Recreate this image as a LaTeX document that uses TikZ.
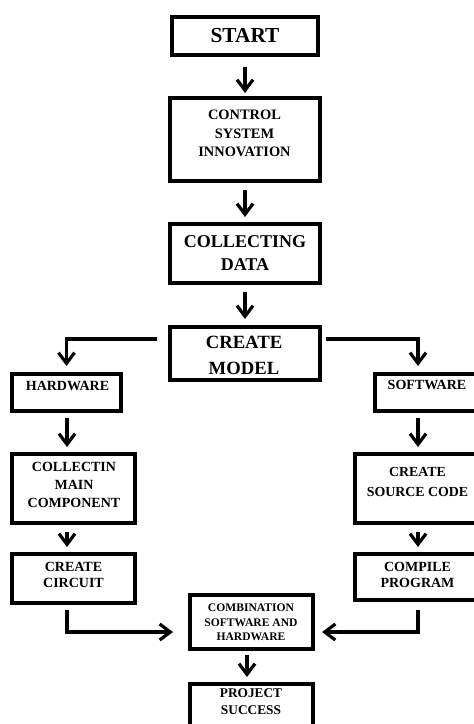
\documentclass[tikz,border=0pt]{standalone}
\usepackage{fontspec}
\setmainfont{Liberation Serif}
\usetikzlibrary{arrows.meta}
\begin{document}
\begin{tikzpicture}[x=0.75pt,y=-0.75pt,
  box/.style={draw, line width=3.6pt, inner sep=0pt, outer sep=0pt},
  lbl/.style={inner sep=0pt, outer sep=0pt, align=center},
  arr/.style={line width=2.4pt, -{Straight Barb[length=8pt,width=12pt]}},
  big/.style={font=\bfseries\fontsize{14pt}{19.5pt}\selectfont},
  mid/.style={font=\bfseries\fontsize{10.5pt}{13.5pt}\selectfont},
  sml/.style={font=\bfseries\fontsize{8.7pt}{10.9pt}\selectfont}]
\useasboundingbox[fill=white] (0,0) rectangle (474,724);
\clip (0,0) rectangle (474,724);
% column coordinates
\coordinate (lx) at (67,0);
\coordinate (rx) at (418,0);
\coordinate (bx) at (247,0);
% boxes
\node[box, minimum width=109.5pt, minimum height=28.5pt] (start) at (245,36) {};
\node[box, minimum width=112.5pt, minimum height=62.25pt] (ctrl) at (245,139.5) {};
\node[box, minimum width=112.5pt, minimum height=44.25pt] (data) at (245,253.5) {};
\node[box, minimum width=112.5pt, minimum height=39.75pt] (model) at (245,353.5) {};
\node[box, minimum width=81.75pt, minimum height=27.75pt] (hw) at (66.5,392.5) {};
\node[box, minimum width=84.75pt, minimum height=27.75pt] (sw) at (431.5,392.5) {};
\node[box, minimum width=92.25pt, minimum height=51.75pt] (comp) at (73.5,488.5) {};
\node[box, minimum width=99.75pt, minimum height=51.75pt] (src) at (421.5,488.5) {};
\node[box, minimum width=92.25pt, minimum height=36.75pt] (circ) at (73.5,578.5) {};
\node[box, minimum width=99.75pt, minimum height=34.5pt] (prog) at (421.5,577) {};
\node[box, minimum width=92.25pt, minimum height=40.5pt] (comb) at (251.5,622) {};
\node[box, minimum width=92.25pt, minimum height=48pt] (proj) at (251.5,716) {};
% texts
\node[lbl, font=\bfseries\fontsize{16pt}{18pt}\selectfont] (tstart) at (245,36) {START};
\node[lbl, font=\bfseries\fontsize{10.8pt}{13.9pt}\selectfont] (tctrl) at (244.5,133.5) {CONTROL\\SYSTEM\\INNOVATION};
\node[lbl, font=\bfseries\fontsize{13.5pt}{17.25pt}\selectfont] (tdata) at (245,253.5) {COLLECTING\\DATA};
\node[lbl, big] (tmodel) at (244,355) {CREATE\\MODEL};
\node[lbl, mid] (thw) at (67.5,386) {HARDWARE};
\node[lbl, mid] (tsw) at (427,385) {SOFTWARE};
\node[lbl, mid] (tcomp) at (74,485) {COLLECTIN\\MAIN\\COMPONENT};
\node[lbl, font=\bfseries\fontsize{10.4pt}{15pt}\selectfont] (tsrc) at (417.5,482) {CREATE\\SOURCE CODE};
\node[lbl, font=\bfseries\fontsize{10.5pt}{12pt}\selectfont] (tcirc) at (73.5,575) {CREATE\\CIRCUIT};
\node[lbl, font=\bfseries\fontsize{10.5pt}{12pt}\selectfont] (tprog) at (417.5,575) {COMPILE\\PROGRAM};
\node[lbl, sml] (tcomb) at (251,622.5) {COMBINATION\\SOFTWARE AND\\HARDWARE};
\node[lbl, font=\bfseries\fontsize{10pt}{12.75pt}\selectfont] (tproj) at (251,701.5) {PROJECT\\SUCCESS};
% connectors
\draw[arr, shorten <=9pt, shorten >=3.75pt] (start.south) -- (ctrl.north);
\draw[arr, shorten <=6.75pt, shorten >=5.25pt] (ctrl.south) -- (data.north);
\draw[arr, shorten <=6.75pt, shorten >=6pt] (data.south) -- (model.north);
\draw[arr, shorten >=6pt] ([xshift=-9.75pt,yshift=10.9pt]model.west) -| (hw.north);
\draw[arr, shorten >=6pt] ([xshift=4.5pt,yshift=10.9pt]model.east) -| (sw.north -| rx);
\draw[arr, shorten <=5.25pt, shorten >=5.25pt] (hw.south -| lx) -- (comp.north -| lx);
\draw[arr, shorten <=5.25pt, shorten >=5.25pt] (sw.south -| rx) -- (src.north -| rx);
\draw[arr, shorten <=6.75pt, shorten >=5.25pt] (comp.south -| lx) -- (circ.north -| lx);
\draw[arr, shorten <=6.75pt, shorten >=5.25pt] (src.south -| rx) -- (prog.north -| rx);
\draw[arr, shorten <=5.25pt, shorten >=12.75pt] (circ.south -| lx) |- ([yshift=-7.5pt]comb.west);
\draw[arr, shorten <=7.5pt, shorten >=6.75pt] (prog.south -| rx) |- ([yshift=-7.5pt]comb.east);
\draw[arr, shorten <=4.5pt, shorten >=5.25pt] (comb.south -| bx) -- (proj.north -| bx);
\end{tikzpicture}
\end{document}
